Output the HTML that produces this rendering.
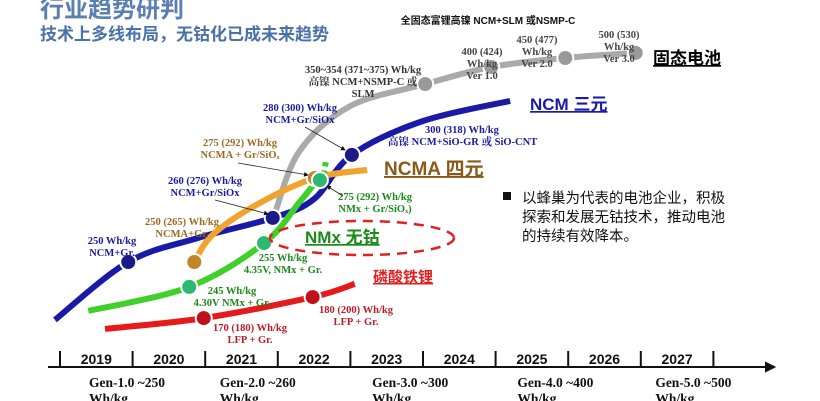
<!DOCTYPE html>
<html><head><meta charset="utf-8"><style>
html,body{margin:0;padding:0;background:#fff;}
svg{display:block;}
.s{font-family:"Liberation Serif","Noto Serif CJK SC",serif;font-weight:bold;font-size:10.5px;}
.g{font-family:"Liberation Serif","Noto Serif CJK SC",serif;font-weight:bold;font-size:13.5px;}
.h{font-family:"Liberation Sans","Noto Sans CJK SC",sans-serif;font-weight:bold;}
</style></head><body>
<svg id="c" width="820" height="401" viewBox="0 0 820 401">
<text class="h" x="40" y="17" font-size="24" fill="#5a7fb0">行业趋势研判</text>
<text class="h" x="40" y="40" font-size="17" fill="#4b72a8">技术上多线布局，无钴化已成未来趋势</text>
<text class="h" x="488" y="24" font-size="10" fill="#111" text-anchor="middle">全固态富锂高镍 NCM+SLM 或NSMP-C</text>
<g id="lines"></g>
<g id="pts"></g>
<ellipse cx="362" cy="238" rx="92" ry="17" fill="none" stroke="#e02020" stroke-width="2.5" stroke-dasharray="10 7"/>
<g class="h" font-size="17">
<text x="530" y="110" fill="#1a1aa8" text-decoration="underline">NCM 三元</text>
<text x="653" y="64" fill="#000" text-decoration="underline">固态电池</text>
<text x="384" y="175" fill="#8a5a1a" font-size="19" text-decoration="underline">NCMA 四元</text>
<text x="305" y="243" fill="#1a8a1a" text-decoration="underline">NMx 无钴</text>
<text x="373" y="282" fill="#e02020" font-size="15" text-decoration="underline">磷酸铁锂</text>
</g>
<g class="s" text-anchor="middle">
<text x="112" y="244" fill="#1a1aa0">250  Wh/kg</text><text x="112" y="256" fill="#1a1aa0">NCM+Gr.</text>
<text x="182" y="225" fill="#9a6a20">250 (265) Wh/kg</text><text x="182" y="237" fill="#9a6a20">NCMA+Gr.</text>
<text x="205" y="184" fill="#1a1aa0">260 (276) Wh/kg</text><text x="205" y="196" fill="#1a1aa0">NCM+Gr/SiOx</text>
<text x="240" y="146" fill="#9a6a20">275 (292)  Wh/kg</text><text x="240" y="158" fill="#9a6a20">NCMA + Gr/SiOₓ</text>
<text x="300" y="111" fill="#1a1aa0">280 (300) Wh/kg</text><text x="300" y="123" fill="#1a1aa0">NCM+Gr/SiOx</text>
<text x="363" y="73" fill="#333">350~354 (371~375) Wh/kg</text><text x="363" y="85" fill="#333">高镍 NCM+NSMP-C 或</text><text x="363" y="97" fill="#333">SLM</text>
<text x="482" y="55" fill="#444">400 (424)</text><text x="482" y="67" fill="#444">Wh/kg</text><text x="482" y="79" fill="#444">Ver 1.0</text>
<text x="537" y="43" fill="#444">450 (477)</text><text x="537" y="55" fill="#444">Wh/kg</text><text x="537" y="67" fill="#444">Ver 2.0</text>
<text x="619" y="38" fill="#444">500 (530)</text><text x="619" y="50" fill="#444">Wh/kg</text><text x="619" y="62" fill="#444">Ver 3.0</text>
<text x="375" y="200" fill="#1a8a1a">275 (292)  Wh/kg</text><text x="375" y="212" fill="#1a8a1a">NMx + Gr/SiOₓ)</text>
<text x="283" y="261" fill="#1a8a1a">255  Wh/kg</text><text x="283" y="273" fill="#1a8a1a">4.35V, NMx + Gr.</text>
<text x="232" y="294" fill="#1a8a1a">245 Wh/kg</text><text x="232" y="306" fill="#1a8a1a">4.30V NMx + Gr.</text>
<text x="250" y="331" fill="#c01a2a">170 (180) Wh/kg</text><text x="250" y="343" fill="#c01a2a">LFP + Gr.</text>
<text x="356" y="313" fill="#c01a2a">180 (200) Wh/kg</text><text x="356" y="325" fill="#c01a2a">LFP + Gr.</text>
<text x="425" y="133" fill="#1a1aa0" text-anchor="start">300 (318) Wh/kg</text>
<text x="388" y="145" fill="#1a1aa0" text-anchor="start">高镍 NCM+SiO-GR 或 SiO-CNT</text>
</g>
<defs><marker id="ah" markerWidth="6" markerHeight="6" refX="5" refY="3" orient="auto"><path d="M0,0 L6,3 L0,6z" fill="#111"/></marker></defs>
<g stroke="#222" stroke-width="0.8" marker-end="url(#ah)">
<line x1="238" y1="163" x2="308" y2="175"/><line x1="215" y1="200" x2="268" y2="214"/><line x1="305" y1="127" x2="345" y2="150"/><line x1="343" y1="196" x2="327" y2="186"/>
</g>
<g>
<rect x="503" y="192" width="8" height="8" fill="#111"/>
<g class="h" font-size="14.5" fill="#111" style="font-weight:normal">
<text x="522" y="203">以蜂巢为代表的电池企业，积极</text>
<text x="522" y="222">探索和发展无钴技术，推动电池</text>
<text x="522" y="241">的持续有效降本。</text></g></g>
<g id="axis"></g>
</svg>
<script>
var years=["2019","2020","2021","2022","2023","2024","2025","2026","2027"];
var genLabels=["Gen-1.0 ~250","Gen-2.0 ~260","Gen-3.0 ~300","Gen-4.0 ~400","Gen-5.0 ~500"];
var genYears=[2019.4,2021.2,2023.3,2025.3,2027.2];
// series: time position (fractional year) and relative level
var ncmT=[2018.93,2019.94,2020.9,2021.93,2022.5,2023.02,2024.0,2025.2];
var ncmL=[6.7,26,34,40.7,47,61.7,73,79.7];
var ncmPtT=[2019.94,2021.93,2023.02];var ncmPtL=[26,40.7,61.7];
var ssT=[2021.96,2022.3,2023.0,2024.03,2024.94,2025.96,2026.93];
var ssL=[42.3,63,78,85.3,91,94,95.7];
var ssPtT=[2024.03,2024.94,2025.96,2026.93];var ssPtL=[85.3,91,94,95.7];
var ncmaT=[2020.85,2021.1,2021.7,2022.51,2023.23];
var ncmaL=[26,35,45,54,56.7];
var ncmaPtT=[2020.85,2022.51];var ncmaPtL=[26,54];
var nmxT=[2019.39,2020.78,2021.81,2022.3,2022.6];
var nmxL=[9.7,17.7,32.3,46,55];
var nmxDashT=[2022.6,2022.62,2022.66];var nmxDashL=[55,53.3,59.3];
var nmxPtT=[2020.78,2021.81,2022.58];var nmxPtL=[17.7,32.3,53.3];
var lfpT=[2019.62,2020.98,2022.48,2023.06];
var lfpL=[3.7,7.3,14.3,18.7];
var lfpPtT=[2020.98,2022.48];var lfpPtL=[7.3,14.3];

function xs(t){return 60+(t-2019)*72.6;}
function ys(l){return 340-l*3;}
var NS="http://www.w3.org/2000/svg";
function smooth(T,L){var p=T.map(function(t,i){return [xs(t),ys(L[i])];});
 var d="M"+p[0][0]+","+p[0][1];
 for(var i=0;i<p.length-1;i++){var p0=p[i-1]||p[i],p1=p[i],p2=p[i+1],p3=p[i+2]||p2;
  d+=" C"+(p1[0]+(p2[0]-p0[0])/6)+","+(p1[1]+(p2[1]-p0[1])/6)+" "+(p2[0]-(p3[0]-p1[0])/6)+","+(p2[1]-(p3[1]-p1[1])/6)+" "+p2[0]+","+p2[1];}
 return d;}
var lines=document.getElementById("lines"),pts=document.getElementById("pts");
function line(T,L,col,name,dash){var e=document.createElementNS(NS,"path");
 e.setAttribute("d",smooth(T,L));e.setAttribute("fill","none");e.setAttribute("stroke",col);
 e.setAttribute("stroke-width","6");if(dash)e.setAttribute("stroke-dasharray",dash);
 
 
 lines.appendChild(e);}
function dots(T,L,col,name){T.forEach(function(t,i){var c=document.createElementNS(NS,"circle");
 c.setAttribute("cx",xs(t));c.setAttribute("cy",ys(L[i]));c.setAttribute("r","8");c.setAttribute("fill",col);
 c.setAttribute("stroke","#fff");c.setAttribute("stroke-width","2");
 
 
 pts.appendChild(c);});}
line(ssT,ssL,"#aaaaaa","solid-state-line");
line(ncmT,ncmL,"#1a1aa8","ncm-line");
line(ncmaT,ncmaL,"#f2a22e","ncma-line");
line(nmxT,nmxL,"#3fd02a","nmx-line");
line(nmxDashT,nmxDashL,"#3fd02a","nmx-dashed-line","6 4");
line(lfpT,lfpL,"#e61a1a","lfp-line");
dots(ssPtT,ssPtL,"#999999","solid-state-point");
dots(ncmPtT,ncmPtL,"#1a1a88","ncm-point");
dots(ncmaPtT,ncmaPtL,"#c4842a","ncma-point");
dots(nmxPtT,nmxPtL,"#2db872","nmx-point");
dots(lfpPtT,lfpPtL,"#c0101c","lfp-point");
var ax=document.getElementById("axis");
var a=document.createElementNS(NS,"path");
a.setAttribute("d","M48,367 L766,367 M766,363 L774,367 L766,371z");a.setAttribute("stroke","#111");a.setAttribute("stroke-width","2");a.setAttribute("fill","#111");


ax.appendChild(a);
for(var i=0;i<=years.length;i++){var tk=document.createElementNS(NS,"line");
 tk.setAttribute("x1",xs(2019+i));tk.setAttribute("x2",xs(2019+i));tk.setAttribute("y1","351");tk.setAttribute("y2","366");
 tk.setAttribute("stroke","#111");tk.setAttribute("stroke-width","2");
 
 
 ax.appendChild(tk);}
years.forEach(function(y,i){var t=document.createElementNS(NS,"text");
 t.setAttribute("x",xs(2019.5+i));t.setAttribute("y","364");t.setAttribute("text-anchor","middle");
 t.setAttribute("class","h");t.setAttribute("font-size","14");t.setAttribute("fill","#111");t.textContent=y;
 
 
 ax.appendChild(t);});
genLabels.forEach(function(g,i){var t=document.createElementNS(NS,"text");
 t.setAttribute("x",xs(genYears[i]));t.setAttribute("y","387");t.setAttribute("class","g");t.setAttribute("fill","#111");
 t.textContent=g;
 
 
 ax.appendChild(t);
 var u=document.createElementNS(NS,"text");
 u.setAttribute("x",xs(genYears[i]));u.setAttribute("y","403");u.setAttribute("class","g");u.setAttribute("fill","#111");
 u.textContent="Wh/kg";
 
 
 ax.appendChild(u);});
</script>
</body></html>
